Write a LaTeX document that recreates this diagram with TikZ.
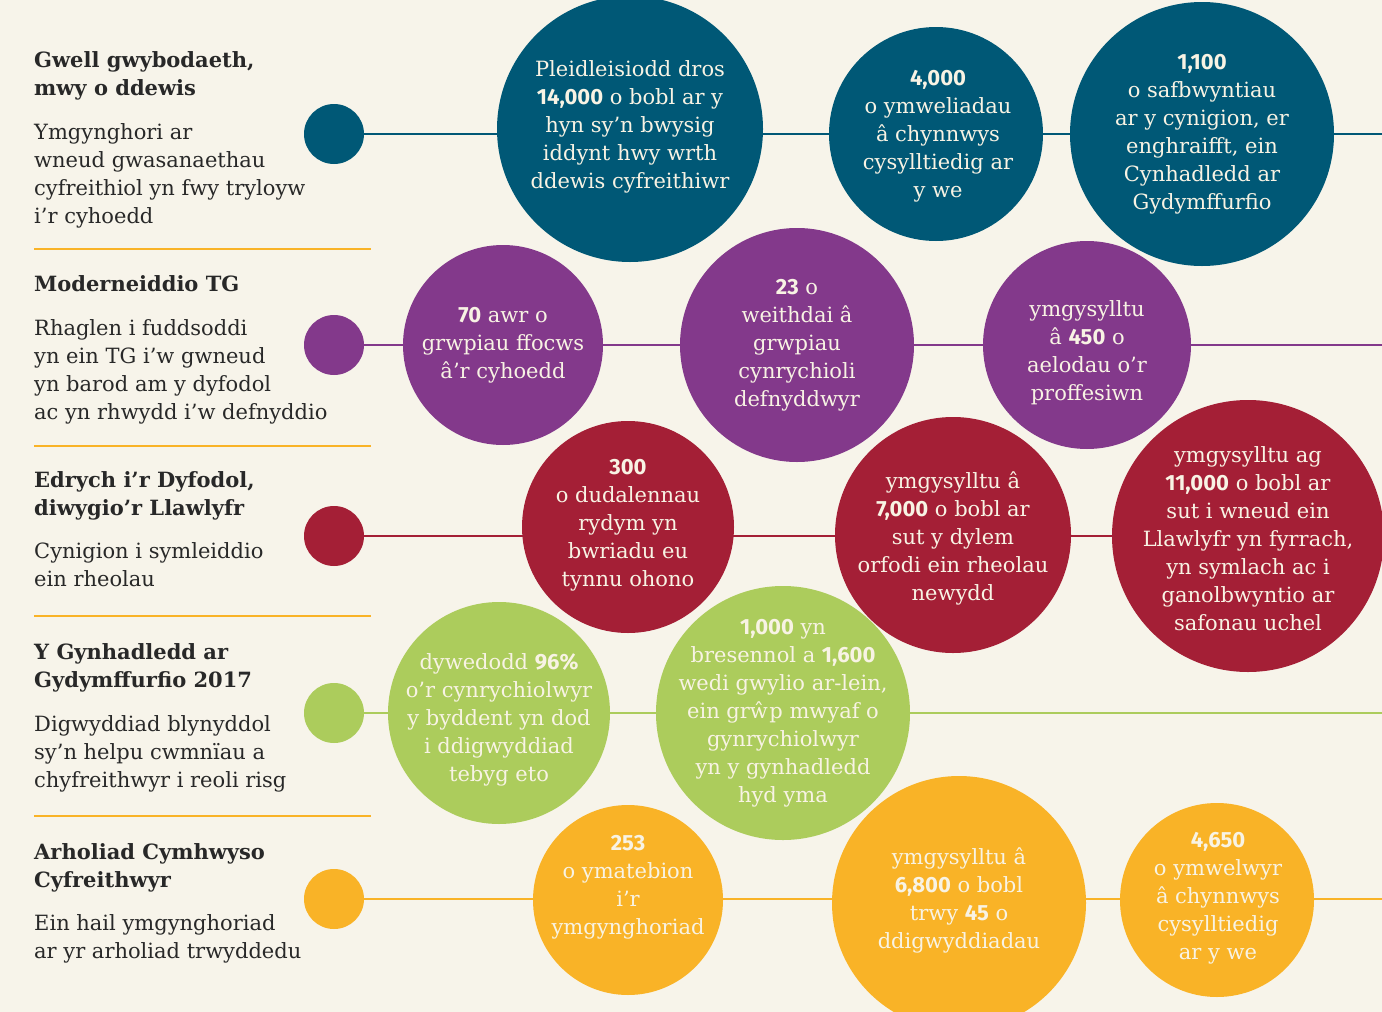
\documentclass[tikz,border=0pt]{standalone}
\usepackage{fontspec}
\setmainfont{DejaVu Serif}
\newfontfamily\statfont{Fira Sans}

% Colours of the five rows
\definecolor{cBlue}{RGB}{0,88,118}
\definecolor{cPurple}{RGB}{131,57,139}
\definecolor{cRed}{RGB}{164,31,54}
\definecolor{cGreen}{RGB}{172,204,92}
\definecolor{cAmber}{RGB}{249,179,39}
\definecolor{cPaper}{RGB}{247,244,234}
\definecolor{cInk}{RGB}{40,40,40}
\definecolor{cCream}{RGB}{248,243,228}

% Bold figures inside the circles
\newcommand{\stat}[1]{{\statfont\bfseries\fontsize{22}{28}\selectfont #1}}

\pgfdeclarelayer{paper}
\pgfdeclarelayer{wires}
\pgfsetlayers{paper,wires,main}

\tikzset{
  dotnode/.style={circle, fill=#1, minimum size=60, inner sep=0pt},
  bubble/.style={circle, fill=#1, inner sep=0pt},
  bubtext/.style={align=center, text=cCream, inner sep=0pt,
    font=\fontsize{21}{28}\selectfont},
  wire/.style={draw=#1, line width=2.5pt},
  rulebar/.style={draw=cAmber, line width=2.5pt},
  % base anchor = baseline of the last line
  heading/.style={anchor=base west, align=left, inner sep=0pt, text=cInk,
    font=\bfseries\fontsize{21}{28}\selectfont},
  blurb/.style={anchor=base west, align=left, inner sep=0pt, text=cInk,
    font=\fontsize{21}{28}\selectfont}
}

\begin{document}
\begin{tikzpicture}[x=1pt,y=-1pt]

    % Page size and paper colour
    \useasboundingbox (0,0) rectangle (1382,1012);
    \begin{pgfonlayer}{paper}
        \fill[cPaper] (0,0) rectangle (1382,1012);
    \end{pgfonlayer}

    % Left column: headings and short descriptions
    \node[heading] (headA) at (34,95) {Gwell gwybodaeth,\\mwy o ddewis};
    \node[blurb] (textA) at (34,223) {Ymgynghori ar\\wneud gwasanaethau\\cyfreithiol yn fwy tryloyw\\i’r cyhoedd};
    \node[heading] (headB) at (34,291) {Moderneiddio TG};
    \node[blurb] (textB) at (34,419) {Rhaglen i fuddsoddi\\yn ein TG i’w gwneud\\yn barod am y dyfodol\\ac yn rhwydd i’w defnyddio};
    \node[heading] (headC) at (34,515) {Edrych i’r Dyfodol,\\diwygio’r Llawlyfr};
    \node[blurb] (textC) at (34,586) {Cynigion i symleiddio\\ein rheolau};
    \node[heading] (headD) at (34,687) {Y Gynhadledd ar\\Gydymffurfio 2017};
    \node[blurb] (textD) at (34,787) {Digwyddiad blynyddol\\sy’n helpu cwmnïau a\\chyfreithwyr i reoli risg};
    \node[heading] (headE) at (34,887) {Arholiad Cymhwyso\\Cyfreithwyr};
    \node[blurb] (textE) at (34,958) {Ein hail ymgynghoriad\\ar yr arholiad trwyddedu};

    % Rules between the rows
    \foreach \y in {249,446,616,816}
        \draw[rulebar] (34,\y) -- (371,\y);

    % Row markers
    \node[dotnode=cBlue] (dotA) at (334,134) {};
    \node[dotnode=cPurple] (dotB) at (334,345) {};
    \node[dotnode=cRed] (dotC) at (334,536) {};
    \node[dotnode=cGreen] (dotD) at (334,713) {};
    \node[dotnode=cAmber] (dotE) at (334,899) {};

    % Free ends of the row lines at the right edge
    \coordinate (endA) at (1382,134);
    \coordinate (endB) at (1382,345);
    \coordinate (endC) at (1382,536);
    \coordinate (endD) at (1382,713);
    \coordinate (endE) at (1382,899);

    % Blue row
    \node[bubble=cBlue, minimum size=266] (blue1) at (630,129) {};
    \node[bubble=cBlue, minimum size=214] (blue2) at (936,134) {};
    \node[bubble=cBlue, minimum size=264] (blue3) at (1202,134) {};
    \node[bubtext] (blue1t) at (630,127) {Pleidleisiodd dros\\\stat{14,000} o bobl ar y\\hyn sy’n bwysig\\iddynt hwy wrth\\ddewis cyfreithiwr};
    \node[bubtext] (blue2t) at (938,136) {\stat{4,000}\\o ymweliadau\\â chynnwys\\cysylltiedig ar\\y we};
    \node[bubtext] (blue3t) at (1202,134) {\stat{1,100}\\o safbwyntiau\\ar y cynigion, er\\enghraifft, ein\\Cynhadledd ar\\Gydymffurfio};

    % Purple row
    \node[bubble=cPurple, minimum size=200] (purple1) at (503,345) {};
    \node[bubble=cPurple, minimum size=234] (purple2) at (797,345) {};
    \node[bubble=cPurple, minimum size=208] (purple3) at (1087,345) {};
    \node[bubtext] (purple1t) at (503,345) {\stat{70} awr o\\grwpiau ffocws\\â’r cyhoedd};
    \node[bubtext] (purple2t) at (797,345) {\stat{23} o\\weithdai â\\grwpiau\\cynrychioli\\defnyddwyr};
    \node[bubtext] (purple3t) at (1087,353) {ymgysylltu\\â \stat{450} o\\aelodau o’r\\proffesiwn};

    % Red row
    \node[bubble=cRed, minimum size=212] (red1) at (628,527) {};
    \node[bubble=cRed, minimum size=236] (red2) at (953,535) {};
    \node[bubble=cRed, minimum size=272] (red3) at (1248,536) {};
    \node[bubtext] (red1t) at (628,525) {\stat{300}\\o dudalennau\\rydym yn\\bwriadu eu\\tynnu ohono};
    \node[bubtext] (red2t) at (953,538) {ymgysylltu â\\\stat{7,000} o bobl ar\\sut y dylem\\orfodi ein rheolau\\newydd};
    \node[bubtext] (red3t) at (1248,539) {ymgysylltu ag\\\stat{11,000} o bobl ar\\sut i wneud ein\\Llawlyfr yn fyrrach,\\yn symlach ac i\\ganolbwyntio ar\\safonau uchel};

    % Green row
    \node[bubble=cGreen, minimum size=222] (green1) at (499,713) {};
    \node[bubble=cGreen, minimum size=254] (green2) at (783,713) {};
    \node[bubtext] (green1t) at (499,720) {dywedodd \stat{96\%}\\o’r cynrychiolwyr\\y byddent yn dod\\i ddigwyddiad\\tebyg eto};
    \node[bubtext] (green2t) at (783,713) {\stat{1,000} yn\\bresennol a \stat{1,600}\\wedi gwylio ar-lein,\\ein grŵp mwyaf o\\gynrychiolwyr\\yn y gynhadledd\\hyd yma};

    % Amber row
    \node[bubble=cAmber, minimum size=190] (amber1) at (628,900) {};
    \node[bubble=cAmber, minimum size=254] (amber2) at (959,903) {};
    \node[bubble=cAmber, minimum size=194] (amber3) at (1217,900) {};
    \node[bubtext] (amber1t) at (628,887) {\stat{253}\\o ymatebion\\i’r\\ymgynghoriad};
    \node[bubtext] (amber2t) at (959,900) {ymgysylltu â\\\stat{6,800} o bobl\\trwy \stat{45} o\\ddigwyddiadau};
    \node[bubtext] (amber3t) at (1218,898) {\stat{4,650}\\o ymwelwyr\\â chynnwys\\cysylltiedig\\ar y we};

    % Row lines run behind the circles
    \begin{pgfonlayer}{wires}
        \draw[wire=cBlue] (dotA) -- (endA);
        \draw[wire=cPurple] (dotB) -- (endB);
        \draw[wire=cRed] (dotC) -- (endC);
        \draw[wire=cGreen] (dotD) -- (endD);
        \draw[wire=cAmber] (dotE) -- (endE);
    \end{pgfonlayer}

\end{tikzpicture}
\end{document}
